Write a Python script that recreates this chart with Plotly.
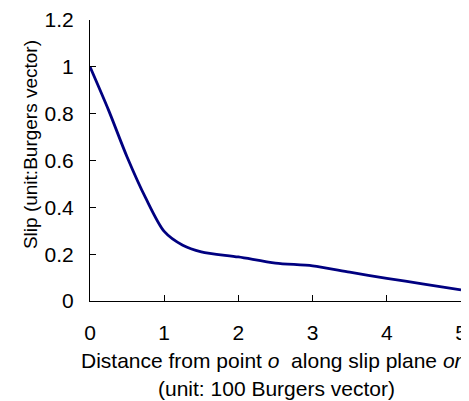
import plotly.graph_objects as go

distance = [0, 0.25, 0.5, 0.75, 1.0, 1.25, 1.5, 2.0, 2.5, 3.0, 3.5, 4.0, 4.5, 5.0]
slip = [1.0, 0.815, 0.615, 0.44, 0.297, 0.238, 0.21, 0.188, 0.162, 0.15, 0.123, 0.097, 0.072, 0.047]

x_ticks = [0, 1, 2, 3, 4, 5]
y_ticks = [0, 0.2, 0.4, 0.6, 0.8, 1.0, 1.2]
y_tick_labels = ["0", "0.2", "0.4", "0.6", "0.8", "1", "1.2"]

x_title_1 = "Distance from point <i>o</i>  along slip plane <i>or</i>"
x_title_2 = "(unit: 100 Burgers vector)"
y_title = "Slip (unit:Burgers vector)"

FAMILY = "Liberation Sans"

fig = go.Figure()
fig.add_trace(go.Scatter(
    x=distance, y=slip, mode="lines",
    line=dict(color="#000080", width=2.8, shape="spline", smoothing=0.8),
    showlegend=False, hoverinfo="skip",
))

font = dict(family=FAMILY, size=21, color="black")

# the page body has an 8px margin, so the figure is 8px smaller than the window
fig.update_layout(
    width=461, height=393,
    margin=dict(l=82, r=8, t=12, b=100, autoexpand=False),
    paper_bgcolor="white", plot_bgcolor="white",
    font=font,
    xaxis=dict(
        range=[0, 5], tickvals=x_ticks, ticktext=[str(v) for v in x_ticks],
        ticks="inside", ticklen=6, tickcolor="black", tickwidth=1,
        showline=True, linecolor="black", linewidth=1,
        showgrid=False, zeroline=False, automargin=False,
        ticklabelstandoff=13,
    ),
    yaxis=dict(
        range=[0, 1.2], tickvals=y_ticks, ticktext=y_tick_labels,
        ticks="inside", ticklen=6, tickcolor="black", tickwidth=1,
        showline=True, linecolor="black", linewidth=1,
        showgrid=False, zeroline=False, automargin=False,
        ticklabelstandoff=11,
    ),
    annotations=[
        dict(text=x_title_1, xref="paper", yref="paper", x=0.49, y=-0.2117,
             xanchor="center", yanchor="middle", showarrow=False,
             font=dict(family=FAMILY, size=21, color="black")),
        dict(text=x_title_2, xref="paper", yref="paper", x=0.503, y=-0.311,
             xanchor="center", yanchor="middle", showarrow=False,
             font=dict(family=FAMILY, size=21, color="black")),
        dict(text=y_title, xref="paper", yref="paper", x=-0.1617, y=0.555,
             xanchor="center", yanchor="middle", showarrow=False, textangle=-90,
             font=dict(family=FAMILY, size=19, color="black")),
    ],
)

fig.write_html("out.html")
